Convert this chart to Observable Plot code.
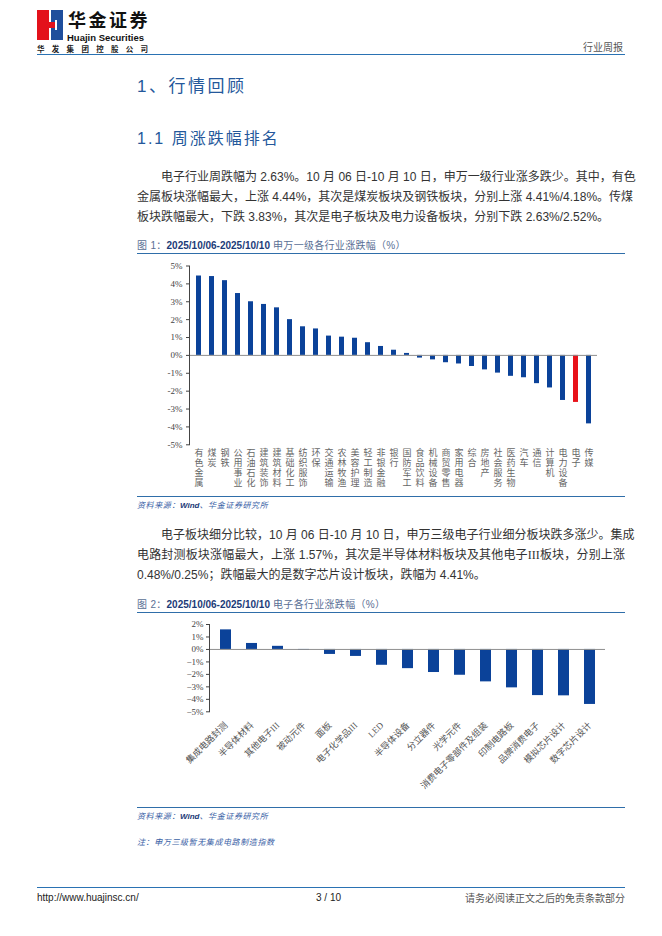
<!DOCTYPE html>
<html>
<head>
<meta charset="utf-8">
<script src="https://cdn.jsdelivr.net/npm/d3@7"></script>
<script src="https://cdn.jsdelivr.net/npm/@observablehq/plot@0.6"></script>
<style>
  html, body { margin: 0; padding: 0; background: #fff; }
  #page { position: relative; width: 662px; height: 936px; overflow: hidden; font-family: "Liberation Sans", "Noto Sans CJK SC", sans-serif; color: #333; }
  .abs { position: absolute; white-space: nowrap; }
  .para { position: absolute; left: 137px; width: 488px; font-size: 12px; line-height: 16px; color: #333; text-align: justify; text-align-last: justify; white-space: nowrap; }
  .para.last { text-align-last: left; }
  .rule { position: absolute; height: 0; border-top: 1.5px solid #2f6ea9; }
  .figt { position: absolute; left: 137px; font-size: 10px; line-height: 14px; color: #5a6f95; letter-spacing: 0.3px; }
  .figt b { color: #1c3b78; font-weight: bold; letter-spacing: 0; }
  .src { position: absolute; left: 137px; font-size: 8px; line-height: 12px; color: #3a62a6; font-style: italic; letter-spacing: 0.6px; }
  .src b { color: #1c3b78; font-weight: bold; letter-spacing: 0; }
  .h1 { position: absolute; left: 137px; font-size: 17px; line-height: 22px; color: #24589b; letter-spacing: 2.5px; }
  .h2 { position: absolute; left: 137px; font-size: 16px; line-height: 22px; color: #24589b; letter-spacing: 2px; }
  .chart { position: absolute; left: 137px; }
  .chart svg { overflow: visible; }
</style>
</head>
<body>
<div id="page">
  <!-- header logo -->
  <div class="abs" style="left:37px;top:10px;width:12px;height:30px;background:#e3121b;"></div>
  <div class="abs" style="left:51px;top:10px;width:12px;height:30px;background:#1f4e9c;"></div>
  <div class="abs" style="left:49px;top:22px;width:6px;height:6px;background:#e3121b;"></div>
  <div class="abs" style="left:55px;top:20px;width:1.5px;height:10px;background:#fff;"></div>
  <div class="abs" style="left:68px;top:10px;font-size:18px;line-height:18px;font-weight:bold;color:#111;font-family:'Noto Sans CJK SC';letter-spacing:2.5px;">华金证券</div>
  <div class="abs" style="left:67px;top:33px;font-size:9.5px;line-height:10px;font-weight:bold;color:#111;font-family:'Liberation Sans';">Huajin Securities</div>
  <div class="abs" style="left:37px;top:44px;font-size:7.5px;line-height:9px;font-weight:bold;color:#222;font-family:'Noto Sans CJK SC';letter-spacing:7.3px;">华发集团控股公司</div>
  <div class="abs" style="left:583px;top:40px;font-size:10px;line-height:13px;color:#555;font-family:'Noto Sans CJK SC';">行业周报</div>
  <div class="rule" style="left:37px;top:54px;width:588px;border-top:1.5px solid #2a72b3;"></div>

  <!-- headings -->
  <div class="h1" style="top:76px;">1、行情回顾</div>
  <div class="h2" style="top:128px;">1.1 周涨跌幅排名</div>

  <!-- paragraph 1 -->
  <div class="para" style="top:169px;text-indent:24px;">电子行业周跌幅为 2.63%。10 月 06 日-10 月 10 日，申万一级行业涨多跌少。其中，有色</div>
  <div class="para" style="top:189px;">金属板块涨幅最大，上涨 4.44%，其次是煤炭板块及钢铁板块，分别上涨 4.41%/4.18%。传煤</div>
  <div class="para last" style="top:209px;">板块跌幅最大，下跌 3.83%，其次是电子板块及电力设备板块，分别下跌 2.63%/2.52%。</div>

  <!-- figure 1 -->
  <div class="figt" style="top:239px;">图 1：<b>2025/10/06-2025/10/10</b> 申万一级各行业涨跌幅（%）</div>
  <div class="rule" style="left:137px;top:253px;width:488px;"></div>
  <div id="chart1" class="chart" style="top:257px;"></div>
  <div class="rule" style="left:137px;top:496px;width:488px;"></div>
  <div class="src" style="top:500px;">资料来源：<b>Wind</b>、华金证券研究所</div>

  <!-- paragraph 2 -->
  <div class="para" style="top:527px;text-indent:24px;">电子板块细分比较，10 月 06 日-10 月 10 日，申万三级电子行业细分板块跌多涨少。集成</div>
  <div class="para" style="top:547px;">电路封测板块涨幅最大，上涨 1.57%，其次是半导体材料板块及其他电子<span style="font-family:'Liberation Serif'">III</span>板块，分别上涨</div>
  <div class="para last" style="top:567px;">0.48%/0.25%；跌幅最大的是数字芯片设计板块，跌幅为 4.41%。</div>

  <!-- figure 2 -->
  <div class="figt" style="top:598px;">图 2：<b>2025/10/06-2025/10/10</b> 电子各行业涨跌幅（%）</div>
  <div class="rule" style="left:137px;top:612px;width:488px;"></div>
  <div id="chart2" class="chart" style="top:615px;"></div>
  <div class="rule" style="left:137px;top:807px;width:488px;"></div>
  <div class="src" style="top:811px;">资料来源：<b>Wind</b>、华金证券研究所</div>
  <div class="src" style="top:837px;">注：申万三级暂无集成电路制造指数</div>

  <!-- footer -->
  <div class="rule" style="left:37px;top:887px;width:588px;border-top:1.5px solid #2a72b3;"></div>
  <div class="abs" style="left:37px;top:891px;font-size:10px;line-height:13px;color:#222;">http://www.huajinsc.cn/</div>
  <div class="abs" style="left:316px;top:891px;font-size:10px;line-height:13px;color:#222;">3 / 10</div>
  <div class="abs" style="left:465px;top:891px;width:160px;text-align:right;font-size:10px;line-height:13px;color:#555;font-family:'Noto Sans CJK SC';">请务必阅读正文之后的免责条款部分</div>
</div>

<script>
// ---- Data: figure 1 (申万一级各行业涨跌幅, %) ----
const industries1 = ["有色金属","煤炭","钢铁","公用事业","石油石化","建筑装饰","建筑材料","基础化工","纺织服饰","环保","交通运输","农林牧渔","美容护理","轻工制造","非银金融","银行","国防军工","食品饮料","机械设备","商贸零售","家用电器","综合","房地产","社会服务","医药生物","汽车","通信","计算机","电力设备","电子","传媒"];
const changes1 = [4.44,4.41,4.18,3.46,3.00,2.85,2.66,2.00,1.60,1.48,1.08,1.02,0.96,0.71,0.50,0.29,0.11,-0.15,-0.25,-0.41,-0.48,-0.62,-0.81,-0.99,-1.17,-1.25,-1.58,-1.82,-2.52,-2.63,-3.83];
const highlight1 = "电子";
const yTicks1 = [5,4,3,2,1,0,-1,-2,-3,-4,-5];

// ---- Data: figure 2 (电子各行业涨跌幅, %) ----
const industries2 = ["集成电路封测","半导体材料","其他电子III","被动元件","面板","电子化学品III","LED","半导体设备","分立器件","光学元件","消费电子零部件及组装","印制电路板","品牌消费电子","模拟芯片设计","数字芯片设计"];
const changes2 = [1.57,0.48,0.25,-0.08,-0.40,-0.56,-1.27,-1.54,-1.85,-2.07,-2.60,-3.08,-3.70,-3.72,-4.41];
const yTicks2 = [2,1,0,-1,-2,-3,-4,-5];

const BLUE = "#0b4299";
const RED = "#e8121a";
const CJK = "'Noto Sans CJK SC', sans-serif";
const SERIF = "'Liberation Serif', 'Noto Sans CJK SC', serif";

const data1 = industries1.map((name, i) => ({name, value: changes1[i]}));
const data2 = industries2.map((name, i) => ({name, value: changes2[i]}));

// vertical category labels: one text per character, stacked by row
const chars1 = industries1.flatMap(name => name.split("").map((ch, row) => ({name, ch, row})));
const maxRows = d3.max(chars1, d => d.row) + 1;
const labelRows = d3.range(maxRows).map(r =>
  Plot.text(chars1.filter(d => d.row === r), {
    x: "name", text: "ch", frameAnchor: "bottom", dy: 11.4 + r * 10,
    fontSize: 9, fontFamily: CJK, fill: "#666"
  })
);

const chart1 = Plot.plot({
  width: 488,
  height: 237,
  marginLeft: 52,
  marginRight: 28,
  marginTop: 8.5,
  marginBottom: 49.7,
  style: {background: "transparent", color: "#333", fontSize: "9px", overflow: "visible"},
  x: {domain: industries1, paddingInner: 0.64, paddingOuter: 0.3, axis: null},
  y: {domain: [-5, 5]},
  marks: [
    Plot.barY(data1, {x: "name", y: "value", fill: d => d.name === highlight1 ? RED : BLUE}),
    Plot.ruleY([0], {stroke: "#8f8f8f", strokeWidth: 1}),
    Plot.frame({anchor: "left", stroke: "#444"}),
    Plot.axisY({ticks: yTicks1, tickSize: 3, tickPadding: 4, tickFormat: d => `${d}%`, fontFamily: SERIF, fontSize: 9, fill: "#444", stroke: "#444", label: null}),
    ...labelRows
  ]
});
document.getElementById("chart1").appendChild(chart1);

const chart2 = Plot.plot({
  width: 488,
  height: 190,
  marginLeft: 72,
  marginRight: 20,
  marginTop: 9,
  marginBottom: 93.7,
  style: {background: "transparent", color: "#333", fontSize: "9px", overflow: "visible"},
  x: {domain: industries2, paddingInner: 0.595, paddingOuter: 0.29},
  y: {domain: [-5, 2]},
  marks: [
    Plot.barY(data2, {x: "name", y: "value", fill: BLUE}),
    Plot.ruleY([0], {stroke: "#8f8f8f", strokeWidth: 1}),
    Plot.frame({anchor: "left", stroke: "#444"}),
    Plot.axisY({ticks: yTicks2, tickSize: 3, tickPadding: 3, tickFormat: d => (d < 0 ? "\u2212" + (-d) : d) + "%", fontFamily: SERIF, fontSize: 9, fill: "#444", stroke: "#444", label: null}),
    Plot.axisX({tickSize: 0, tickPadding: 12, tickRotate: -45, fontSize: 9, fontFamily: SERIF, fill: "#555", label: null})
  ]
});
document.getElementById("chart2").appendChild(chart2);
</script>
</body>
</html>
